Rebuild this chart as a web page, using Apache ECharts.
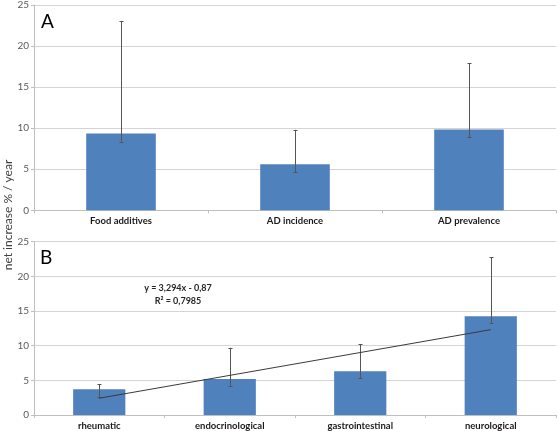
<!DOCTYPE html>
<html>
<head>
<meta charset="utf-8">
<script src="https://cdn.jsdelivr.net/npm/echarts@6/dist/echarts.min.js"></script>
<style>html,body{margin:0;padding:0;background:#fff}#c{width:558px;height:431px}</style>
</head>
<body>
<div id="c"></div>
<script>
// Panel A
var catsA = ['Food additives', 'AD incidence', 'AD prevalence'];
var valsA = [9.35, 5.6, 9.85];
var errLowA = [8.35, 4.63, 8.9];
var errHighA = [23.0, 9.8, 17.9];
// Panel B
var catsB = ['rheumatic', 'endocrinological', 'gastrointestinal', 'neurological'];
var valsB = [3.7, 5.2, 6.3, 14.25];
var errLowB = [2.6, 4.23, 5.3, 13.3];
var errHighB = [4.43, 9.7, 10.2, 22.75];
// Linear trend endpoints (first and last category)
var trendB = [2.42, 12.31];
var yTicks = [0, 5, 10, 15, 20, 25];
var eqText = ['y = 3,294x - 0,87', 'R² = 0,7985'];

var FONT = 'Lato, "Liberation Sans", sans-serif';
var chart = echarts.init(document.getElementById('c'));

function errSeries(xi, yi, low, high) {
  return {
    type: 'custom', xAxisIndex: xi, yAxisIndex: yi, z: 5,
    data: low.map(function (l, i) { return [i, l, high[i]]; }),
    renderItem: function (params, api) {
      var p1 = api.coord([api.value(0), api.value(1)]);
      var p2 = api.coord([api.value(0), api.value(2)]);
      var x = Math.round(p1[0]) + 0.5;
      var st = { stroke: '#555555', lineWidth: 1 };
      return { type: 'group', children: [
        { type: 'line', shape: { x1: x, y1: p1[1], x2: x, y2: p2[1] }, style: st },
        { type: 'line', shape: { x1: x - 2, y1: Math.round(p1[1]) + 0.5, x2: x + 2, y2: Math.round(p1[1]) + 0.5 }, style: st },
        { type: 'line', shape: { x1: x - 2, y1: Math.round(p2[1]) + 0.5, x2: x + 2, y2: Math.round(p2[1]) + 0.5 }, style: st }
      ] };
    }
  };
}

function xAx(gi, cats) {
  return {
    type: 'category', gridIndex: gi, data: cats,
    axisLine: { lineStyle: { color: '#bfbfbf' } },
    axisTick: { show: true, length: 3, lineStyle: { color: '#bfbfbf' }, alignWithLabel: false },
    axisLabel: { fontFamily: FONT, fontWeight: 'bold', fontSize: 9.5, color: '#1a1a1a', margin: 6 }
  };
}
function yAx(gi) {
  return {
    type: 'value', gridIndex: gi, min: 0, max: 25, interval: 5,
    axisLine: { show: true, lineStyle: { color: '#bfbfbf' } },
    axisTick: { show: true, length: 3, lineStyle: { color: '#bfbfbf' } },
    splitLine: { lineStyle: { color: '#d4d4d4' } },
    axisLabel: { fontFamily: FONT, fontSize: 10, color: '#595959', margin: 5,
      formatter: function (v) { return yTicks.indexOf(v) >= 0 ? String(v) : ''; } }
  };
}

chart.setOption({
  animation: false,
  grid: [
    { left: 34, right: 2, top: 5, height: 205.3 },
    { left: 34, right: 2, top: 241.7, height: 173.3 }
  ],
  xAxis: [xAx(0, catsA), xAx(1, catsB)],
  yAxis: [yAx(0), yAx(1)],
  series: [
    { type: 'bar', xAxisIndex: 0, yAxisIndex: 0, data: valsA, barCategoryGap: '60%',
      itemStyle: { color: '#4f81bd' } },
    errSeries(0, 0, errLowA, errHighA),
    { type: 'bar', xAxisIndex: 1, yAxisIndex: 1, data: valsB, barCategoryGap: '60%',
      itemStyle: { color: '#4f81bd' } },
    errSeries(1, 1, errLowB, errHighB),
    { type: 'line', xAxisIndex: 1, yAxisIndex: 1, z: 6, symbol: 'none', silent: true,
      data: [[catsB[0], trendB[0]], [catsB[3], trendB[1]]],
      lineStyle: { color: '#3a3a3a', width: 1 } }
  ],
  graphic: [
    { type: 'text', left: 41, top: 12, style: { text: 'A', font: '19px ' + FONT, fill: '#000' } },
    { type: 'text', left: 40, top: 248, style: { text: 'B', font: '19px ' + FONT, fill: '#000' } },
    { type: 'text', x: 178, y: 288, style: { text: eqText[0], font: 'bold 9px ' + FONT, fill: '#262626', align: 'center', verticalAlign: 'middle' } },
    { type: 'text', x: 178, y: 301, style: { text: eqText[1], font: 'bold 9px ' + FONT, fill: '#262626', align: 'center', verticalAlign: 'middle' } },
    { type: 'text', x: 8, y: 215, rotation: Math.PI / 2, style: { text: 'net increase % / year', font: '12px ' + FONT, fill: '#404040', align: 'center', verticalAlign: 'middle' } }
  ]
});
</script>
</body>
</html>
